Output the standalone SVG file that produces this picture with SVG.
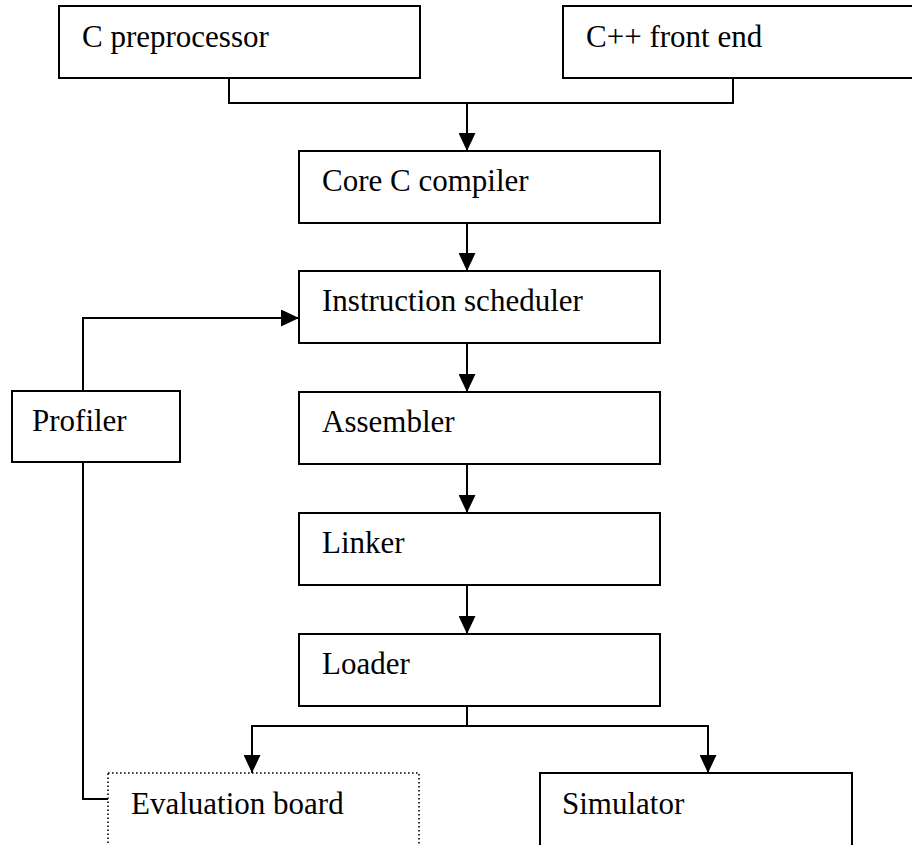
<svg xmlns="http://www.w3.org/2000/svg" width="912" height="845" viewBox="0 0 912 845">
  <style>
    .box { fill: #fff; stroke: #000; stroke-width: 2; }
    .dotted { fill: #fff; stroke: #000; stroke-width: 1.6; stroke-dasharray: 1.6 2.4; }
    .lbl { font-family: "Liberation Serif", "Times New Roman", serif; font-size: 31px; fill: #000; }
    .wire { fill: none; stroke: #000; stroke-width: 2; }
  </style>
  <defs>
    <marker id="arrow" viewBox="0 0 18 18" refX="18" refY="9" markerWidth="18" markerHeight="17" markerUnits="userSpaceOnUse" orient="auto" preserveAspectRatio="none">
      <path d="M0,0 L18,9 L0,18 Z" fill="#000"/>
    </marker>
  </defs>
  <rect width="912" height="845" fill="#fff"/>

  <!-- connectors -->
  <g id="connectors">
    <polyline class="wire" points="229,78 229,103 733,103 733,78"/>
    <line class="wire" x1="467" y1="103" x2="467" y2="151" marker-end="url(#arrow)"/>
    <line class="wire" x1="467" y1="223" x2="467" y2="271" marker-end="url(#arrow)"/>
    <line class="wire" x1="467" y1="343" x2="467" y2="392" marker-end="url(#arrow)"/>
    <line class="wire" x1="467" y1="464" x2="467" y2="513" marker-end="url(#arrow)"/>
    <line class="wire" x1="467" y1="585" x2="467" y2="634" marker-end="url(#arrow)"/>
    <line class="wire" x1="467" y1="706" x2="467" y2="726"/>
    <line class="wire" x1="251" y1="726" x2="709" y2="726"/>
    <line class="wire" x1="252" y1="726" x2="252" y2="773" marker-end="url(#arrow)"/>
    <line class="wire" x1="708" y1="726" x2="708" y2="773" marker-end="url(#arrow)"/>
    <polyline class="wire" points="83,391 83,318 299,318" marker-end="url(#arrow)"/>
    <polyline class="wire" points="83,462 83,799 108,799"/>
  </g>

  <g id="c-preprocessor">
    <rect class="box" x="59" y="6" width="361" height="72"/>
    <text class="lbl" x="82" y="47">C preprocessor</text>
  </g>
  <g id="cpp-front-end">
    <rect class="box" x="563" y="6" width="360" height="72"/>
    <text class="lbl" x="586" y="47">C++ front end</text>
  </g>
  <g id="core-c-compiler">
    <rect class="box" x="299" y="151" width="361" height="72"/>
    <text class="lbl" x="322" y="191">Core C compiler</text>
  </g>
  <g id="instruction-scheduler">
    <rect class="box" x="299" y="271" width="361" height="72"/>
    <text class="lbl" x="322" y="311">Instruction scheduler</text>
  </g>
  <g id="profiler">
    <rect class="box" x="12" y="391" width="168" height="71"/>
    <text class="lbl" x="32" y="431">Profiler</text>
  </g>
  <g id="assembler">
    <rect class="box" x="299" y="392" width="361" height="72"/>
    <text class="lbl" x="322" y="432">Assembler</text>
  </g>
  <g id="linker">
    <rect class="box" x="299" y="513" width="361" height="72"/>
    <text class="lbl" x="322" y="553">Linker</text>
  </g>
  <g id="loader">
    <rect class="box" x="299" y="634" width="361" height="72"/>
    <text class="lbl" x="322" y="674">Loader</text>
  </g>
  <g id="evaluation-board">
    <rect class="dotted" x="108" y="773" width="311" height="90"/>
    <text class="lbl" x="131" y="814">Evaluation board</text>
  </g>
  <g id="simulator">
    <rect class="box" x="540" y="773" width="312" height="90"/>
    <text class="lbl" x="562" y="814">Simulator</text>
  </g>
</svg>
